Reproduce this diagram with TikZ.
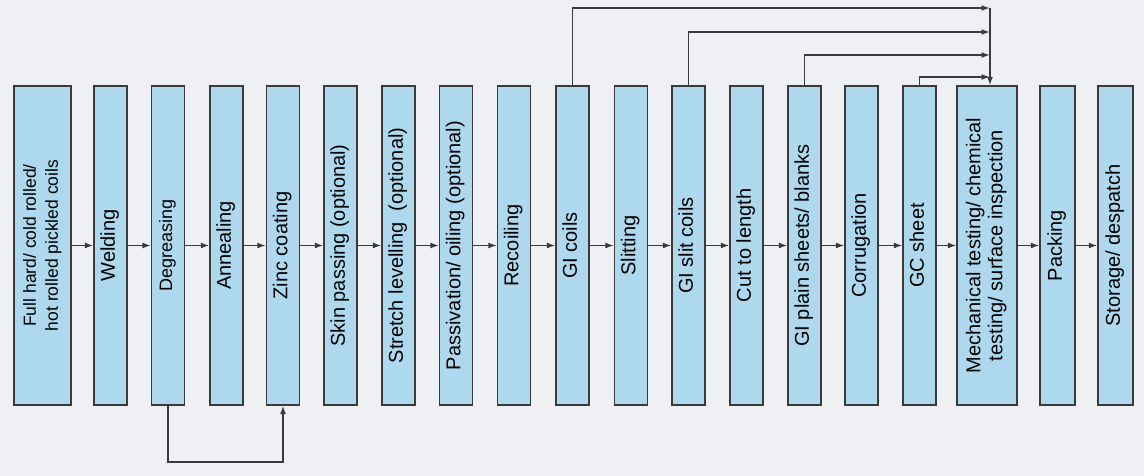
\documentclass[tikz,border=0pt]{standalone}
\usepackage{fontspec}
\setmainfont{Liberation Sans}
\usetikzlibrary{arrows.meta}
\definecolor{boxfill}{HTML}{AED8EE}
\definecolor{boxline}{HTML}{3A3A3A}
\definecolor{paper}{HTML}{EEF0F4}
\newcommand{\vt}[1]{\rotatebox{90}{\begin{tabular}{@{}c@{}}#1\end{tabular}}}
\tikzset{
  procbox/.style={draw=boxline, fill=boxfill, line width=1.4pt, inner sep=0pt,
    minimum height=319pt, minimum width=33pt,
    font=\fontsize{20}{22}\selectfont},
  widebox/.style={procbox, minimum width=58pt},
  arr/.style={draw=boxline, line width=1.4pt, -{Latex[length=8.5pt,width=6pt]}}
}
\begin{document}
\begin{tikzpicture}[x=1pt,y=1pt]
\fill[paper] (0,0) rectangle (1144,476);
\useasboundingbox (0,0) rectangle (1144,476);
\node[widebox, minimum width=57pt, font=\fontsize{17.5}{22}\selectfont] (n1) at (42.5,230.5) {\vt{Full hard/ cold rolled/\\hot rolled pickled coils}};
\node[procbox] (n2) at (110.5,230.5) {\vt{Welding}};
\node[procbox, font=\fontsize{18}{20}\selectfont] (n3) at (168,230.5) {\vt{Degreasing}};
\node[procbox] (n4) at (226.5,230.5) {\vt{Annealing}};
\node[procbox] (n5) at (283,230.5) {\vt{Zinc coating}};
\node[procbox] (n6) at (340.5,230.5) {\vt{Skin passing (optional)}};
\node[procbox] (n7) at (398.5,230.5) {\vt{Stretch levelling~ (optional)}};
\node[procbox] (n8) at (456,230.5) {\vt{Passivation/ oiling (optional)}};
\node[procbox] (n9) at (514,230.5) {\vt{Recoiling}};
\node[procbox] (n10) at (572.5,230.5) {\vt{GI coils}};
\node[procbox] (n11) at (631,230.5) {\vt{Slitting}};
\node[procbox] (n12) at (688.5,230.5) {\vt{GI slit coils}};
\node[procbox] (n13) at (746.5,230.5) {\vt{Cut to length}};
\node[procbox] (n14) at (804.5,230.5) {\vt{GI plain sheets/ blanks}};
\node[procbox] (n15) at (861.5,230.5) {\vt{Corrugation}};
\node[procbox] (n16) at (919.5,230.5) {\vt{GC sheet}};
\node[widebox, minimum width=60pt] (n17) at (987,230.5) {\vt{Mechanical testing/ chemical\\testing/ surface inspection}};
\node[procbox, minimum width=35pt] (n18) at (1057.5,230.5) {\vt{Packing}};
\node[procbox, minimum width=35pt] (n19) at (1115.5,230.5) {\vt{Storage/ despatch}};
\foreach \a/\b in {n1/n2,n2/n3,n3/n4,n4/n5,n5/n6,n6/n7,n7/n8,n8/n9,n9/n10,n10/n11,n11/n12,n12/n13,n13/n14,n14/n15,n15/n16,n16/n17,n17/n18,n18/n19}
  \draw[arr] (\a) -- (\b);
\coordinate (h1) at (990,468);
\coordinate (h2) at (990,444);
\coordinate (h3) at (990,421);
\coordinate (h4) at (990,399);
\draw[arr] (n10.north) |- (h1);
\draw[arr] (n12.north) |- (h2);
\draw[arr] (n14.north) |- (h3);
\draw[arr] (n16.north) |- (h4);
\draw[arr] (h1) -- (n17.north -| h1);
\coordinate (lb) at (168,14);
\draw[arr] (n3.south) -- (lb) -| (n5.south);
\end{tikzpicture}
\end{document}
